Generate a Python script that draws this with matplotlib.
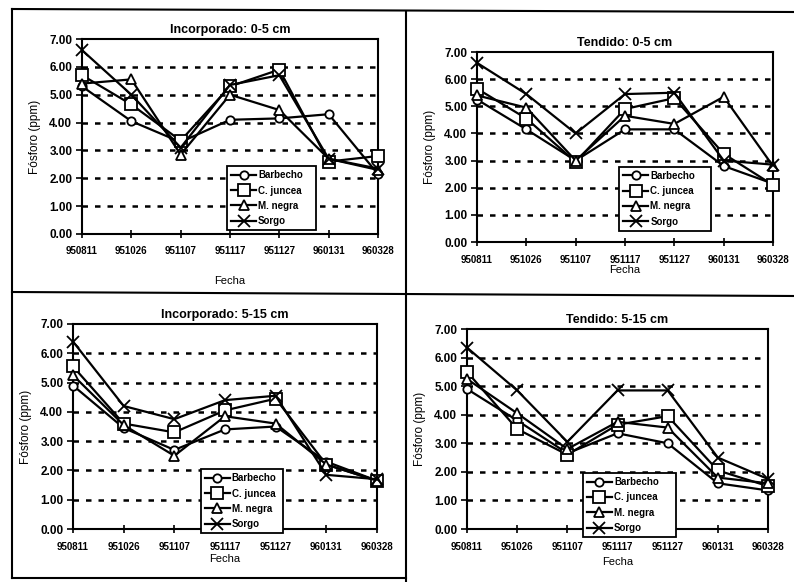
import matplotlib
matplotlib.use("Agg")
import matplotlib.pyplot as plt
from matplotlib.lines import Line2D

plt.rcParams['font.family'] = ['Liberation Sans', 'DejaVu Sans']
plt.rcParams['font.weight'] = 'bold'

fechas = ['950811', '951026', '951107', '951117', '951127', '960131', '960328']
series = ['Barbecho', 'C. juncea', 'M. negra', 'Sorgo']

# Incorporado 0-5 cm
inc_0_5 = {
    'Barbecho':  [5.30, 4.05, 3.30, 4.10, 4.15, 4.30, 2.15],
    'C. juncea': [5.70, 4.65, 3.35, 5.30, 5.90, 2.60, 2.80],
    'M. negra':  [5.40, 5.55, 2.85, 5.00, 4.45, 2.70, 2.30],
    'Sorgo':     [6.60, 5.00, 3.10, 5.35, 5.70, 2.70, 2.35],
}
# Tendido 0-5 cm
ten_0_5 = {
    'Barbecho':  [5.25, 4.15, 3.00, 4.15, 4.15, 2.80, 2.15],
    'C. juncea': [5.65, 4.55, 2.95, 4.90, 5.30, 3.25, 2.10],
    'M. negra':  [5.40, 4.95, 3.00, 4.65, 4.35, 5.35, 2.80],
    'Sorgo':     [6.60, 5.45, 4.00, 5.45, 5.50, 3.00, 2.85],
}
# Incorporado 5-15 cm
inc_5_15 = {
    'Barbecho':  [4.90, 3.45, 2.70, 3.40, 3.50, 2.30, 1.65],
    'C. juncea': [5.55, 3.60, 3.30, 4.05, 4.45, 2.20, 1.65],
    'M. negra':  [5.25, 3.55, 2.50, 3.85, 3.60, 2.20, 1.65],
    'Sorgo':     [6.40, 4.20, 3.75, 4.40, 4.55, 1.85, 1.70],
}
# Tendido 5-15 cm
ten_5_15 = {
    'Barbecho':  [4.90, 3.80, 2.65, 3.35, 3.00, 1.60, 1.35],
    'C. juncea': [5.50, 3.50, 2.60, 3.65, 3.95, 2.05, 1.50],
    'M. negra':  [5.25, 4.05, 2.80, 3.75, 3.55, 1.80, 1.60],
    'Sorgo':     [6.35, 4.85, 3.05, 4.85, 4.85, 2.50, 1.75],
}

markers = {'Barbecho': 'o', 'C. juncea': 's', 'M. negra': '^', 'Sorgo': 'x'}
msizes = {'Barbecho': 6, 'C. juncea': 8, 'M. negra': 7, 'Sorgo': 8}

W, H = 794, 582
fig = plt.figure(figsize=(W / 100, H / 100), dpi=100)


def box(l, r, t, b):
    return [l / W, 1 - b / H, (r - l) / W, (b - t) / H]


panels = [
    ('Incorporado: 0-5 cm', inc_0_5, box(82, 378, 39, 234), 14, (0.49, 0.02, 0.30, 0.40)),
    ('Tendido: 0-5 cm', ten_0_5, box(477, 773, 52, 242), 0, (0.48, 0.06, 0.31, 0.39)),
    ('Incorporado: 5-15 cm', inc_5_15, box(73, 377, 324, 529), 2, (0.42, -0.02, 0.27, 0.37)),
    ('Tendido: 5-15 cm', ten_5_15, box(467, 768, 329, 529), 4, (0.385, -0.04, 0.31, 0.40)),
]

for title, data, pos, xpad, legbox in panels:
    ax = fig.add_axes(pos)
    x = range(len(fechas))
    for s in series:
        ax.plot(x, data[s], color='black', lw=1.6, marker=markers[s],
                ms=msizes[s], mfc='white', mec='black', mew=1.3, clip_on=False, zorder=3)
    ax.set_xlim(0, len(fechas) - 1)
    ax.set_ylim(0, 7)
    ax.set_yticks(range(8))
    ax.set_yticklabels(['%.2f' % v for v in range(8)], fontsize=8.5)
    ax.set_xticks(list(x))
    ax.set_xticklabels(fechas, fontsize=7)
    for yv in range(1, 7):
        ax.axhline(yv, color='black', lw=1.8, ls=(0, (2.2, 2.8)), zorder=1)
    for sp in ax.spines.values():
        sp.set_linewidth(1.5)
    ax.tick_params(axis='x', direction='inout', length=6, width=1.2, pad=6)
    ax.tick_params(axis='y', direction='out', length=4, width=1.2, pad=3)
    ax.set_title(title, fontsize=9, fontweight='bold', pad=4)
    ax.set_ylabel('Fósforo (ppm)', fontsize=8.5, labelpad=6)
    ax.set_xlabel('Fecha', fontsize=8, labelpad=xpad)
    handles = [Line2D([], [], color='black', lw=1.6, marker=markers[s], ms=msizes[s],
                      mfc='white', mec='black', mew=1.3) for s in series]
    leg = ax.legend(handles, series, loc='lower left', bbox_to_anchor=legbox, mode='expand',
                    fontsize=7, frameon=True, fancybox=False, framealpha=1,
                    edgecolor='black', handlelength=2.6, handletextpad=0.2,
                    labelspacing=0.55, borderpad=0.4, borderaxespad=0)
    leg.get_frame().set_linewidth(1.3)
    leg.set_zorder(5)

# scanned page frame lines
frame = [((12, 12), (9, 578)), ((12, 794), (9, 12)), ((406, 406), (12, 582)),
         ((12, 794), (292, 296)), ((12, 406), (578, 578))]
for xs, ys in frame:
    fig.add_artist(Line2D([v / W for v in xs], [1 - v / H for v in ys],
                          color='black', lw=1.5))

fig.savefig('out.png', dpi=100, facecolor='white')
